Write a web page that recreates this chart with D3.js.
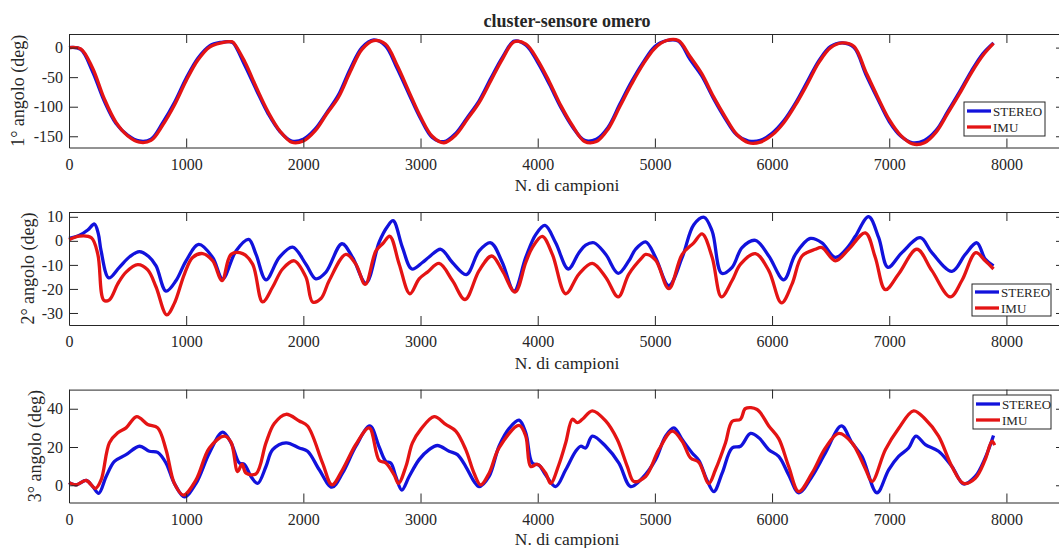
<!DOCTYPE html>
<html>
<head>
<meta charset="utf-8">
<script src="https://cdn.jsdelivr.net/npm/d3@7"></script>
<style>
  body { margin: 0; background: #fff; }
  text { font-family: "Liberation Serif", "Times New Roman", serif; fill: #262626; }
</style>
</head>
<body>
<div id="chart"></div>
<script>
var width = 1059;
var height = 548;

// tick labels
const xTicks = [0, 1000, 2000, 3000, 4000, 5000, 6000, 7000, 8000];
const a1Ticks = [-150, -100, -50, 0];
const a2Ticks = [-30, -20, -10, 0, 10];
const a3Ticks = [0, 20, 40];
const seriesNames = ["STEREO", "IMU"];

// 1° angolo: [campione, gradi]
const a1Stereo = [[0,0],[100,-3],[200,-40],[300,-90],[400,-128],[500,-148],[600,-158],[700,-155],[800,-127],[900,-93],
  [1000,-52],[1100,-18],[1200,3],[1300,9],[1370,10],[1400,8],[1500,-30],[1600,-72],[1700,-112],[1800,-142],[1900,-158],
  [2000,-155],[2100,-138],[2200,-110],[2300,-80],[2400,-36],[2500,0],[2600,13],[2700,3],[2800,-35],[2900,-78],
  [3000,-120],[3100,-152],[3200,-159],[3300,-145],[3400,-118],[3500,-90],[3600,-52],[3700,-16],[3800,11],[3900,4],
  [4000,-25],[4100,-62],[4200,-102],[4300,-135],[4400,-157],[4500,-155],[4600,-135],[4700,-96],[4800,-58],[4900,-25],
  [5000,2],[5100,12],[5200,11],[5300,-20],[5400,-48],[5500,-86],[5600,-120],[5700,-148],[5800,-158],[5900,-157],
  [6000,-145],[6100,-124],[6200,-94],[6300,-58],[6400,-22],[6500,2],[6600,8],[6700,0],[6800,-45],[6900,-86],
  [7000,-125],[7100,-150],[7200,-161],[7300,-157],[7400,-140],[7500,-108],[7600,-75],[7700,-40],[7800,-10],[7890,8]];
const a1Imu = [[0,0],[100,-2],[200,-34],[300,-86],[400,-126],[500,-149],[600,-160],[700,-157],[800,-131],[900,-97],
  [1000,-56],[1100,-21],[1200,1],[1300,8],[1380,10],[1400,9],[1500,-24],[1600,-68],[1700,-109],[1800,-141],[1900,-160],
  [2000,-158],[2100,-141],[2200,-112],[2300,-84],[2400,-41],[2500,-3],[2600,12],[2700,6],[2800,-30],[2900,-74],
  [3000,-117],[3100,-150],[3200,-161],[3300,-148],[3400,-121],[3500,-93],[3600,-56],[3700,-19],[3800,10],[3900,6],
  [4000,-21],[4100,-58],[4200,-99],[4300,-133],[4400,-159],[4500,-159],[4600,-138],[4700,-100],[4800,-62],[4900,-28],
  [5000,-1],[5100,12],[5200,12],[5300,-15],[5400,-44],[5500,-83],[5600,-117],[5700,-147],[5800,-161],[5900,-160],
  [6000,-148],[6100,-127],[6200,-97],[6300,-62],[6400,-25],[6500,0],[6600,8],[6700,2],[6800,-41],[6900,-83],
  [7000,-122],[7100,-149],[7200,-163],[7300,-161],[7400,-143],[7500,-111],[7600,-78],[7700,-43],[7800,-13],[7890,7]];

// 2° angolo
const a2Stereo = [[0,1],[90,2.3],[160,4.5],[217,7],[250,3],[274,-4.2],[340,-15.4],[430,-11],[520,-6.5],[601,-4.5],
  [680,-6.5],[743,-10.4],[828,-20.9],[914,-16.5],[999,-8.3],[1107,-1.5],[1226,-6.9],[1311,-15.8],[1425,-4.2],
  [1533,0.6],[1596,-5.6],[1681,-16.2],[1795,-6.9],[1908,-2.6],[2022,-9.7],[2107,-15.8],[2193,-13],[2329,-1.2],
  [2420,-6.9],[2534,-17.6],[2647,-0.5],[2718,6],[2766,8.4],[2846,-2.8],[2926,-11.7],[3016,-9],[3073,-6.7],
  [3173,-3.5],[3272,-9],[3391,-14],[3500,-4.2],[3599,-0.8],[3698,-9],[3798,-20.9],[3898,-6.9],[3983,2.6],
  [4062,6.4],[4153,-0.8],[4261,-11.7],[4352,-4.9],[4409,-1.8],[4480,-0.8],[4580,-5.6],[4687,-13.5],[4778,-8.3],
  [4835,-3.5],[4921,-0.4],[5006,-6.9],[5119,-18.6],[5233,-6.9],[5332,6.7],[5420,9.8],[5489,4],[5570,-13.5],
  [5659,-11],[5744,-2.8],[5858,0.2],[5972,-6.3],[6100,-16.2],[6199,-5.6],[6327,1],[6426,-0.8],[6540,-6.9],
  [6654,-2.2],[6711,1.9],[6824,10.1],[6910,1.3],[6989,-11],[7108,-4.9],[7265,1.3],[7364,-4.9],[7535,-12.7],
  [7649,-5.6],[7748,-0.8],[7819,-7.6],[7890,-10.4]];
const a2Imu = [[0,0.5],[90,2],[191,1.3],[246,-5.6],[297,-24.7],[345,-24.5],[416,-17.9],[487,-13],[587,-9.9],
  [672,-12.1],[743,-19.2],[834,-30.8],[899,-26],[985,-13.8],[1055,-6.9],[1141,-5.3],[1226,-8.3],[1306,-16.5],
  [1383,-5.6],[1482,-5.3],[1567,-9.7],[1652,-25.4],[1738,-19.2],[1823,-11.7],[1922,-8.3],[2022,-15.1],[2079,-25.4],
  [2150,-24],[2221,-16.5],[2363,-5.6],[2448,-9.7],[2528,-18.1],[2619,-4.2],[2680,-1],[2738,1.9],[2818,-9.7],
  [2909,-22],[2988,-15.8],[3059,-13],[3159,-9.4],[3272,-16.5],[3380,-24.4],[3500,-12.4],[3608,-6.3],[3698,-12.4],
  [3807,-21.3],[3898,-9],[3954,-2.8],[4039,1.9],[4125,-5.6],[4239,-22],[4352,-13.8],[4466,-9.4],[4580,-15.1],
  [4687,-23.3],[4778,-13.8],[4892,-6.9],[4921,-5.6],[5006,-8],[5119,-19.9],[5233,-5.6],[5332,-0.8],[5403,2.9],
  [5489,-6.9],[5568,-23.3],[5659,-16.5],[5731,-9.7],[5858,-5.3],[5972,-12.4],[6080,-25.8],[6171,-17.9],
  [6256,-6.3],[6370,-3.5],[6426,-2.8],[6540,-8.3],[6654,-3.5],[6796,3.3],[6881,-6.9],[6967,-20.3],[7080,-13.8],
  [7236,-3.5],[7364,-12.4],[7521,-23.3],[7620,-16.5],[7739,-4.9],[7819,-8.3],[7890,-11.7]];

// 3° angolo
const a3Stereo = [[0,1.4],[61,0.2],[147,2.5],[203,-0.7],[254,-4.2],[317,4.6],[388,12.5],[487,16],[601,20.4],
  [686,17.8],[757,17.2],[828,11.6],[899,1],[985,-6],[1084,1],[1198,16.9],[1311,27.8],[1383,22.2],[1454,11.6],
  [1496,11],[1553,4.6],[1610,1],[1681,9.8],[1738,18.6],[1852,22.2],[1965,19.5],[2036,17.8],[2136,8.1],[2244,-1],
  [2334,6.3],[2448,20.4],[2568,31],[2647,20],[2704,12.5],[2747,11.6],[2789,4.6],[2840,-2.5],[2903,4.6],
  [2988,13.4],[3073,18.6],[3144,20.8],[3244,17.8],[3315,16],[3386,9.8],[3457,2],[3500,-0.7],[3585,4.6],
  [3670,20.4],[3760,30],[3841,34],[3898,27.4],[3954,11.6],[4011,10.5],[4068,5.4],[4153,-0.7],[4239,8.1],
  [4324,17.8],[4367,20.4],[4409,19.5],[4466,25.7],[4580,20.4],[4693,11.6],[4793,-0.7],[4892,3.7],[5006,13.4],
  [5091,25.7],[5162,30],[5233,23.9],[5318,16.9],[5375,13],[5446,2.5],[5503,-3.3],[5574,6.3],[5659,19.5],
  [5731,20.4],[5816,27.1],[5887,24.8],[5972,18.6],[6057,15.1],[6142,5.4],[6228,-3.9],[6341,4.6],[6455,16.9],
  [6592,31],[6682,22.2],[6767,15.1],[6895,-3.9],[6995,8.1],[7080,15.1],[7165,19.5],[7228,25.7],[7308,21.3],
  [7421,17.8],[7535,9.8],[7634,0.7],[7734,4.6],[7819,14.3],[7890,26]];
const a3Imu = [[0,1.4],[61,0.2],[147,2.5],[226,-1.6],[274,2.8],[345,22.2],[416,27.4],[487,30],[578,35.9],
  [672,31.8],[757,30],[828,18.6],[899,1],[976,-5.1],[1084,2.8],[1198,19.5],[1326,25.7],[1383,22.5],[1439,7.2],
  [1477,11],[1511,6.3],[1596,6],[1681,22.2],[1752,32.3],[1852,37.1],[1965,33.6],[2036,31],[2164,11.6],[2244,0.2],
  [2334,8.1],[2448,21.3],[2562,30],[2647,13],[2704,11.6],[2775,5.4],[2812,1],[2875,9.8],[2931,22.2],[3002,29.2],
  [3116,35.9],[3215,31.8],[3301,28.3],[3386,18.6],[3457,6.3],[3514,0.2],[3585,6.3],[3670,19.5],[3841,31.3],
  [3898,25.7],[3940,9.8],[3997,11],[4068,6.3],[4111,1],[4182,11],[4239,22.2],[4296,34.5],[4338,32.7],[4381,34.5],
  [4466,38.9],[4580,33.6],[4679,23.9],[4765,9.8],[4821,2],[4921,4.6],[5034,18.6],[5148,28.3],[5233,23],
  [5304,14.3],[5375,12],[5460,1],[5517,8.1],[5603,22.2],[5659,33.4],[5731,34.5],[5773,40.1],[5872,39.6],
  [5972,31],[6057,24.4],[6142,9.8],[6228,-3.3],[6341,6.3],[6455,19.5],[6569,27.1],[6682,22.2],[6796,8.7],
  [6853,2],[6967,18.6],[7080,29.7],[7208,38.9],[7308,34.5],[7421,25.7],[7535,9.8],[7634,1],[7734,3.7],
  [7819,13.4],[7876,23],[7900,21]];

const colors = ["#1212dc", "#e41414"];
const axisColor = "#262626";

let svg = d3.select("#chart")
  .append("svg")
  .attr("width", width)
  .attr("height", height);

var x = d3.scaleLinear().domain([0, 8500]).range([69, 1065]);

var panels = [
  { top: 34, bottom: 147.5, domain: [-169, 23], ticks: a1Ticks, label: "1° angolo (deg)", labelX: 24, xlabelDy: 43.5,
    series: [a1Stereo, a1Imu], legend: { x: 964, y: 102, w: 81, h: 34 } },
  { top: 212, bottom: 325, domain: [-35, 12], ticks: a2Ticks, label: "2° angolo (deg)", labelX: 34, xlabelDy: 43.5,
    series: [a2Stereo, a2Imu], legend: { x: 972, y: 284, w: 79, h: 32 } },
  { top: 389.6, bottom: 502.5, domain: [-9, 50], ticks: a3Ticks, label: "3° angolo (deg)", labelX: 41, xlabelDy: 42,
    series: [a3Stereo, a3Imu], legend: { x: 973, y: 395, w: 78, h: 34 } }
];

panels.forEach(p => {
  var y = d3.scaleLinear().domain(p.domain).range([p.bottom, p.top]);
  var g = svg.append("g");

  var line = d3.line()
    .x(d => x(d[0]))
    .y(d => y(d[1]))
    .curve(d3.curveCatmullRom.alpha(0.5));

  p.series.forEach((s, i) => {
    g.append("path")
      .datum(s)
      .attr("d", line)
      .attr("fill", "none")
      .attr("stroke", colors[i])
      .attr("stroke-width", 3.3)
      .attr("stroke-linejoin", "round");
  });

  // axes, ticks pointing inward like MATLAB
  var fmt = d => String(d);
  g.append("g").attr("transform", `translate(0,${p.bottom})`)
    .call(d3.axisBottom(x).tickValues(xTicks).tickFormat(fmt).tickSizeInner(-9).tickSizeOuter(0).tickPadding(11));
  g.append("g").attr("transform", `translate(0,${p.top})`)
    .call(d3.axisTop(x).tickValues(xTicks).tickFormat("").tickSizeInner(-9).tickSizeOuter(0));
  g.append("g").attr("transform", `translate(${x.range()[0]},0)`)
    .call(d3.axisLeft(y).tickValues(p.ticks).tickFormat(fmt).tickSizeInner(-9).tickSizeOuter(0).tickPadding(6));
  g.append("g").attr("transform", `translate(${x.range()[1]},0)`)
    .call(d3.axisRight(y).tickValues(p.ticks).tickFormat("").tickSizeInner(-9).tickSizeOuter(0));

  g.selectAll(".domain, .tick line").attr("stroke", axisColor).attr("stroke-width", 1);
  g.selectAll(".tick text")
    .attr("font-family", "Liberation Serif, Times New Roman, serif")
    .attr("font-size", 16)
    .attr("fill", axisColor);

  g.append("text")
    .attr("x", (x.range()[0] + x.range()[1]) / 2)
    .attr("y", p.bottom + p.xlabelDy)
    .attr("text-anchor", "middle")
    .attr("font-size", 17.5)
    .text("N. di campioni");

  g.append("text")
    .attr("transform", `translate(${p.labelX},${(p.top + p.bottom) / 2}) rotate(-90)`)
    .attr("text-anchor", "middle")
    .attr("font-size", 18)
    .text(p.label);

  // legend
  var L = p.legend;
  var lg = g.append("g");
  lg.append("rect")
    .attr("x", L.x).attr("y", L.y).attr("width", L.w).attr("height", L.h)
    .attr("fill", "#fff").attr("stroke", axisColor).attr("stroke-width", 1);
  seriesNames.forEach((name, i) => {
    var ry = L.y + L.h / 2 + (i === 0 ? -8 : 8);
    lg.append("line")
      .attr("x1", L.x + 3).attr("x2", L.x + 27)
      .attr("y1", ry).attr("y2", ry)
      .attr("stroke", colors[i]).attr("stroke-width", 3.3);
    lg.append("text")
      .attr("x", L.x + 29).attr("y", ry)
      .attr("dy", "0.35em")
      .attr("font-size", 13)
      .text(name);
  });
});

svg.append("text")
  .attr("x", (x.range()[0] + x.range()[1]) / 2)
  .attr("y", 27)
  .attr("text-anchor", "middle")
  .attr("font-size", 18)
  .attr("font-weight", "bold")
  .attr("fill", "#000")
  .text("cluster-sensore omero");
</script>
</body>
</html>
